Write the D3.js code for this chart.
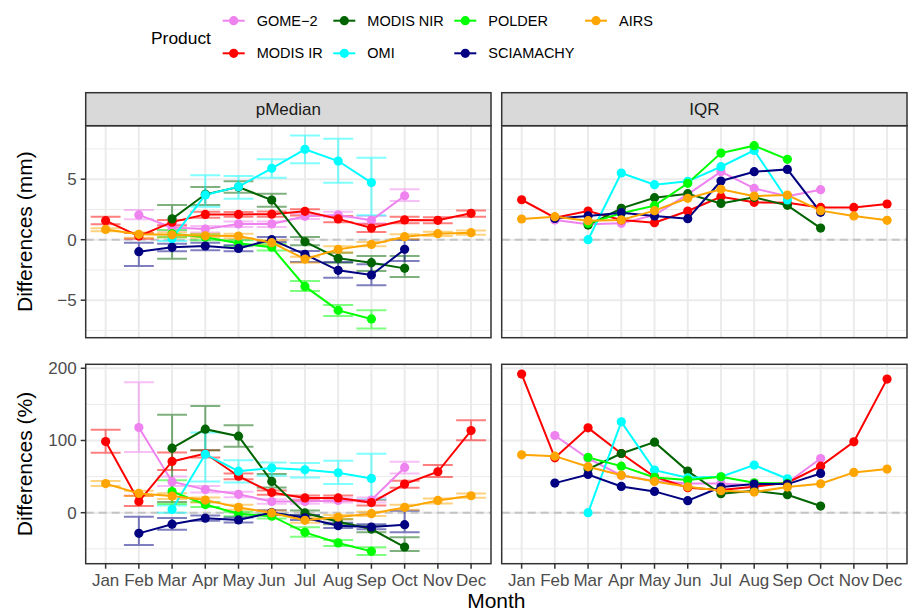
<!DOCTYPE html>
<html>
<head>
<meta charset="utf-8">
<script src="https://cdn.jsdelivr.net/npm/d3@7"></script>
<style>
  html, body { margin: 0; padding: 0; background: #fff; }
  svg { display: block; font-family: "Liberation Sans", Arial, Helvetica, sans-serif; }
</style>
</head>
<body>
<svg id="chart" width="908" height="616"></svg>
<script>
// ---------------- DATA ----------------
const months = ["Jan","Feb","Mar","Apr","May","Jun","Jul","Aug","Sep","Oct","Nov","Dec"];
const products = ["GOME\u22122","MODIS IR","MODIS NIR","OMI","POLDER","SCIAMACHY","AIRS"];
const productColors = ["#EE82EE","#FF0000","#006400","#00FFFF","#00FF00","#000080","#FFA500"];
const legendLayout = [[0,0],[0,1],[1,0],[1,1],[2,0],[2,1],[3,0]]; // [column,row] per product
const panelTitles = ["pMedian","IQR"];
const rowTitles = ["Differences (mm)","Differences (%)"];
const xTitle = "Month";
const mmTicks = [-5, 0, 5];
const mmMinor = [-7.5, -2.5, 2.5, 7.5];
const pctTicks = [0, 100, 200];
const pctMinor = [-50, 50, 150];
const N = null;

// pMedian, mm (rows follow `products`)
const medianMM = [
  [N, 2.05, 1.0, 0.88, 1.3, 1.3, 1.93, 2.05, 1.6, 3.63, N, N],
  [1.57, 0.3, 1.45, 2.09, 2.09, 2.11, 2.34, 1.72, 0.96, 1.63, 1.6, 2.18],
  [N, N, 1.72, 3.75, 4.35, 3.28, -0.17, -1.54, -1.9, -2.37, N, N],
  [N, N, 0.08, 3.7, 4.38, 5.9, 7.47, 6.5, 4.72, N, N, N],
  [N, N, 0.5, 0.2, -0.3, -0.62, -3.86, -5.84, -6.55, N, N, N],
  [N, -0.99, -0.63, -0.52, -0.72, 0.0, -1.21, -2.53, -2.92, -0.8, N, N],
  [0.85, 0.44, 0.4, 0.32, 0.3, -0.25, -1.6, -0.8, -0.39, 0.25, 0.5, 0.58]
];
const medianMMLo = [
  [N, 1.68, 0.75, 0.6, 1.05, 1.05, 1.7, 1.85, 1.35, 3.2, N, N],
  [1.27, 0.08, 1.18, 1.82, 1.9, 1.9, 2.0, 1.45, 0.63, 1.35, 1.35, 1.9],
  [N, N, -1.57, 2.86, 3.88, 2.73, -0.47, -1.9, -2.59, -3.09, N, N],
  [N, N, -0.1, 2.73, 3.39, 5.12, 6.31, 4.71, 2.01, N, N, N],
  [N, N, 0.2, -0.05, -0.55, -0.9, -4.24, -6.31, -7.33, N, N, N],
  [N, -2.18, -0.96, -0.88, -0.95, -0.2, -1.85, -3.14, -3.77, -1.76, N, N],
  [0.69, 0.15, 0.2, 0.15, 0.12, -0.45, -1.9, -1.05, -0.55, 0.05, 0.3, 0.4]
];
const medianMMHi = [
  [N, 2.45, 1.25, 1.13, 1.5, 1.5, 2.15, 2.3, 1.95, 4.16, N, N],
  [1.9, 0.55, 1.62, 2.31, 2.29, 2.32, 2.51, 1.95, 1.27, 1.9, 1.85, 2.42],
  [N, N, 2.86, 4.35, 4.82, 3.8, 0.22, -1.07, -1.35, -1.35, N, N],
  [N, N, 0.25, 5.32, 5.26, 6.64, 8.62, 8.35, 6.78, N, N, N],
  [N, N, 0.8, 0.45, -0.05, -0.35, -3.42, -5.4, -5.84, N, N, N],
  [N, -0.25, -0.33, -0.25, -0.45, 0.22, -0.94, -1.85, -2.04, 0.0, N, N],
  [0.95, 0.6, 0.6, 0.5, 0.5, -0.05, -1.4, -0.55, -0.2, 0.45, 0.65, 0.75]
];
// IQR, mm
const iqrMM = [
  [N, 1.63, 1.27, 1.35, 2.04, 3.75, 5.62, 4.24, 3.6, 4.13, N, N],
  [3.3, 1.82, 2.37, 1.63, 1.4, 2.37, 3.55, 3.09, 3.06, 2.67, 2.67, 2.95],
  [N, N, 1.21, 2.59, 3.47, 3.8, 3.0, 3.5, 2.84, 0.96, N, N],
  [N, N, 0.0, 5.51, 4.55, 4.82, 6.03, 7.38, 3.28, N, N, N],
  [N, N, 1.35, 2.18, 2.81, 4.66, 7.16, 7.77, 6.64, N, N, N],
  [N, 1.76, 1.96, 2.23, 1.96, 1.74, 4.85, 5.62, 5.81, 2.26, N, N],
  [1.71, 1.9, 1.57, 1.63, 2.4, 3.42, 4.16, 3.6, 3.69, 2.4, 1.96, 1.6]
];
// pMedian, %
const medianPct = [
  [N, 118, 43, 32, 25.5, 15.5, 15.5, 17, 17.5, 62.7, N, N],
  [98.5, 15.5, 71, 82, 50.5, 28, 20.5, 20.5, 14, 39.6, 56.7, 113.8],
  [N, N, 89.4, 115.7, 106, 43.3, -0.3, -12.4, -22.6, -47.5, N, N],
  [N, N, 4.5, 81, 57.5, 62, 59.5, 55.3, 47.5, N, N, N],
  [N, N, 29.3, 11.3, -1.5, -4.8, -27.2, -41.9, -53.5, N, N, N],
  [N, -28.6, -15.9, -7.6, -10, 0.3, -7, -18, -19.8, -16.6, N, N],
  [40.3, 26.7, 23, 17.5, 7.4, -0.3, -10.5, -6, -1.4, 7.4, 17, 23.5]
];
const medianPctLo = [
  [N, 84, 37, 28, 21.5, 12.5, 12.5, 14, 14, 54.4, N, N],
  [83, 9.2, 59, 76.5, 46.5, 24.9, 17, 17, 10, 34.6, 49.3, 100.5],
  [N, N, 15, 86.6, 91.2, 35, -4, -16, -27, -53, N, N],
  [N, N, 0, 43.3, 41.9, 51.2, 48.8, 39.6, 18.4, N, N, N],
  [N, N, 12, 8, -5, -8, -33.2, -46.1, -58.5, N, N, N],
  [N, -44.7, -23.5, -11, -13.5, -3, -10, -21, -23, -27.2, N, N],
  [36.9, 23, 19, 14, 4, -3.5, -14, -9, -4.5, 4, 12.9, 20.7]
];
const medianPctHi = [
  [N, 180.6, 50, 37, 29, 18.5, 18.5, 20, 21, 70.5, N, N],
  [115, 23.5, 83.4, 86.6, 54.4, 30.9, 24, 24, 17.5, 44.2, 65.9, 128],
  [N, N, 135.5, 147.9, 121.2, 53.5, 3, -9, -18, -34.1, N, N],
  [N, N, 10, 111, 72.8, 69.6, 68.7, 71.9, 81.6, N, N, N],
  [N, N, 45, 15, 1.5, -2, -20.3, -37.8, -47.9, N, N, N],
  [N, -5.5, -7.4, -4, -6.5, 3.5, -3, -14, -16, 2.8, N, N],
  [43.8, 30.4, 27, 21, 11, 3, -7, -3, 1.5, 11, 19.8, 26.7]
];
// IQR, %
const iqrPct = [
  [N, 106.9, 75.1, 51.6, 43.8, 40.5, 40.5, 38.2, 41.5, 75.1, N, N],
  [192, 76, 117.5, 82, 49.8, 34.6, 31.3, 35.9, 41.5, 64.5, 98.2, 185],
  [N, N, 60.4, 82, 97.7, 57.6, 26.3, 30.4, 24.9, 9.2, N, N],
  [N, N, 0, 125.8, 59, 48.4, 49.8, 65.9, 47, N, N, N],
  [N, N, 76.5, 64.5, 48.8, 45.2, 49.8, 41.5, 40.5, N, N, N],
  [N, 41, 53, 36.4, 29.5, 16.6, 35.5, 39.6, 39.6, 54.4, N, N],
  [80.2, 78.3, 63.6, 52, 43.3, 35.9, 30.4, 28.6, 35.5, 40.1, 55.8, 60.4]
];

// ---------------- LAYOUT ----------------
const svg = d3.select("#chart");
const FONT_AXIS = 17, FONT_TITLE = 21, FONT_STRIP = 17, FONT_LEG = 14.5, FONT_LEGT = 17.4;
const colX = [[85.7, 491], [501.7, 907]];
const stripY = [92.7, 125.7];
const rowY = [[125.7, 337.7], [364.3, 563.7]];
const yDomains = [[-8.1, 9.42], [-70.6, 205.5]];

const xScales = colX.map(r => d3.scalePoint().domain(months).range(r).padding(0.6));
const yScales = rowY.map((r, i) => d3.scaleLinear().domain(yDomains[i]).range([r[1], r[0]]));

const panels = [
  {row: 0, col: 0, val: medianMM, lo: medianMMLo, hi: medianMMHi, major: mmTicks, minor: mmMinor},
  {row: 0, col: 1, val: iqrMM, major: mmTicks, minor: mmMinor},
  {row: 1, col: 0, val: medianPct, lo: medianPctLo, hi: medianPctHi, major: pctTicks, minor: pctMinor},
  {row: 1, col: 1, val: iqrPct, major: pctTicks, minor: pctMinor}
];

panels.forEach(p => {
  const x = xScales[p.col], y = yScales[p.row];
  const [x0, x1] = colX[p.col], [y0, y1] = rowY[p.row];
  const g = svg.append("g");
  g.append("rect").attr("x", x0).attr("y", y0).attr("width", x1 - x0).attr("height", y1 - y0).attr("fill", "#fff");
  // minor grid
  g.selectAll(".minor").data(p.minor).join("line")
    .attr("x1", x0).attr("x2", x1).attr("y1", d => y(d)).attr("y2", d => y(d))
    .attr("stroke", "#EBEBEB").attr("stroke-width", 1);
  // major grid
  g.selectAll(".majory").data(p.major).join("line")
    .attr("x1", x0).attr("x2", x1).attr("y1", d => y(d)).attr("y2", d => y(d))
    .attr("stroke", "#EBEBEB").attr("stroke-width", 2);
  g.selectAll(".majorx").data(months).join("line")
    .attr("x1", d => x(d)).attr("x2", d => x(d)).attr("y1", y0).attr("y2", y1)
    .attr("stroke", "#EBEBEB").attr("stroke-width", 2);
  // zero line
  g.append("line").attr("x1", x0).attr("x2", x1).attr("y1", y(0)).attr("y2", y(0))
    .attr("stroke", "#C4C4C4").attr("stroke-width", 2).attr("stroke-dasharray", "8,5");

  const clip = "clip" + p.row + p.col;
  svg.append("clipPath").attr("id", clip).append("rect")
    .attr("x", x0).attr("y", y0).attr("width", x1 - x0).attr("height", y1 - y0);
  const gm = g.append("g").attr("clip-path", `url(#${clip})`);
  const half = x.step() * 0.45;

  // error bars
  if (p.lo) {
    products.forEach((prod, i) => {
      const bars = months.map((m, j) => ({m, lo: p.lo[i][j], hi: p.hi[i][j]})).filter(d => d.lo != null);
      const eg = gm.append("g").attr("stroke", productColors[i]).attr("stroke-opacity", 0.5)
        .attr("stroke-width", 2).attr("fill", "none");
      bars.forEach(d => {
        const cx = x(d.m);
        eg.append("path").attr("d",
          `M${cx - half},${y(d.hi)}H${cx + half}M${cx},${y(d.hi)}V${y(d.lo)}M${cx - half},${y(d.lo)}H${cx + half}`);
      });
    });
  }
  // lines
  const line = d3.line().defined(d => d.v != null).x(d => x(d.m)).y(d => y(d.v));
  products.forEach((prod, i) => {
    const pts = months.map((m, j) => ({m, v: p.val[i][j]}));
    gm.append("path").datum(pts).attr("d", line)
      .attr("fill", "none").attr("stroke", productColors[i]).attr("stroke-width", 2);
  });
  // points
  products.forEach((prod, i) => {
    const pts = months.map((m, j) => ({m, v: p.val[i][j]})).filter(d => d.v != null);
    gm.selectAll(null).data(pts).join("circle")
      .attr("cx", d => x(d.m)).attr("cy", d => y(d.v)).attr("r", 4.6)
      .attr("fill", productColors[i]);
  });
  // border
  g.append("rect").attr("x", x0).attr("y", y0).attr("width", x1 - x0).attr("height", y1 - y0)
    .attr("fill", "none").attr("stroke", "#333333").attr("stroke-width", 1.5);

  // y axis on left column
  if (p.col === 0) {
    const ax = svg.append("g");
    p.major.forEach(t => {
      ax.append("line").attr("x1", x0 - 5).attr("x2", x0).attr("y1", y(t)).attr("y2", y(t))
        .attr("stroke", "#333333").attr("stroke-width", 1.5);
      ax.append("text").attr("x", x0 - 9).attr("y", y(t)).attr("dy", "0.35em")
        .attr("text-anchor", "end").attr("font-size", FONT_AXIS).attr("fill", "#4D4D4D")
        .text(t < 0 ? "\u2212" + Math.abs(t) : String(t));
    });
    svg.append("text").attr("transform", `translate(25,${(y0 + y1) / 2}) rotate(-90)`)
      .attr("dy", "0.35em").attr("text-anchor", "middle").attr("font-size", FONT_TITLE)
      .attr("fill", "#000").text(rowTitles[p.row]);
  }
  // x axis on bottom row
  if (p.row === 1) {
    const ax = svg.append("g");
    months.forEach(m => {
      ax.append("line").attr("x1", x(m)).attr("x2", x(m)).attr("y1", y1).attr("y2", y1 + 5)
        .attr("stroke", "#333333").attr("stroke-width", 1.5);
      ax.append("text").attr("x", x(m)).attr("y", y1 + 22).attr("text-anchor", "middle")
        .attr("font-size", FONT_AXIS).attr("fill", "#4D4D4D").text(m);
    });
  }
  // strips on top row
  if (p.row === 0) {
    svg.append("rect").attr("x", x0).attr("y", stripY[0]).attr("width", x1 - x0)
      .attr("height", stripY[1] - stripY[0]).attr("fill", "#D9D9D9")
      .attr("stroke", "#333333").attr("stroke-width", 1.5);
    svg.append("text").attr("x", (x0 + x1) / 2).attr("y", (stripY[0] + stripY[1]) / 2)
      .attr("dy", "0.35em").attr("text-anchor", "middle").attr("font-size", FONT_STRIP)
      .attr("fill", "#1A1A1A").text(panelTitles[p.col]);
  }
});

// x title
svg.append("text").attr("x", (colX[0][0] + colX[1][1]) / 2).attr("y", 608)
  .attr("text-anchor", "middle").attr("font-size", FONT_TITLE).attr("fill", "#000").text(xTitle);

// ---------------- LEGEND ----------------
const legColX = [222.7, 333.3, 454.3, 585];
const legRowY = [20.7, 53.3];
const leg = svg.append("g");
leg.append("text").attr("x", 151).attr("y", 37.5).attr("dy", "0.35em")
  .attr("font-size", FONT_LEGT).attr("fill", "#000").text("Product");
products.forEach((prod, i) => {
  const [c, r] = legendLayout[i];
  const lx = legColX[c], ly = legRowY[r];
  leg.append("line").attr("x1", lx).attr("x2", lx + 22).attr("y1", ly).attr("y2", ly)
    .attr("stroke", productColors[i]).attr("stroke-width", 2);
  leg.append("circle").attr("cx", lx + 11).attr("cy", ly).attr("r", 4.6).attr("fill", productColors[i]);
  leg.append("text").attr("x", lx + 34).attr("y", ly).attr("dy", "0.35em")
    .attr("font-size", FONT_LEG).attr("fill", "#000").text(prod);
});
</script>
</body>
</html>
